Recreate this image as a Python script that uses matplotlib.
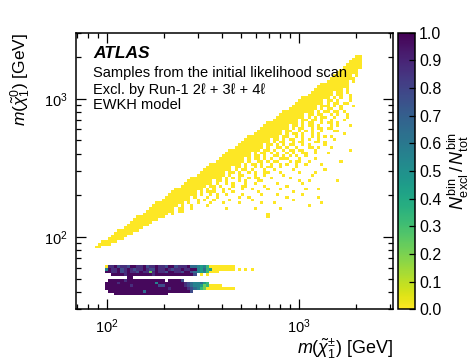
import numpy as np
import matplotlib
matplotlib.use('Agg')
import matplotlib.pyplot as plt
from matplotlib.ticker import NullFormatter

plt.rcParams['font.family'] = ['Liberation Sans', 'DejaVu Sans']
plt.rcParams['mathtext.fontset'] = 'custom'
plt.rcParams['mathtext.rm'] = 'Liberation Sans'
plt.rcParams['mathtext.it'] = 'Liberation Sans:italic'
plt.rcParams['mathtext.bf'] = 'Liberation Sans:bold'

# ---------------- binning of the histogram ----------------
x_lo, x_hi, n_x = 69.2, 3113.0, 100    # m(chi1+-) [GeV]
y_lo, y_hi, n_y = 30.0, 3000.0, 100    # m(chi1^0) [GeV]

# ---------------- data ----------------
# main diagonal band: (row counted from top, first column, pattern); 'Y' = fraction 0
band_rows = [
    (8, 88, "YY"),
    (9, 87, "YYY"),
    (10, 86, "YYYY"),
    (11, 85, "YYYYY"),
    (12, 84, "YYYYYY"),
    (13, 83, "YYYYYY"),
    (14, 82, "YYYYYYY"),
    (15, 81, "YYYYYY.Y"),
    (16, 80, "YYYYYYYY"),
    (17, 79, "YYYYYYY.Y"),
    (18, 77, "YYYYYYYYY"),
    (19, 76, "YYYYYYYY.Y"),
    (20, 75, "YYYYYYYYY.Y"),
    (21, 74, "YYYYYYY.YY.Y"),
    (22, 73, "YYYYYYYY.YY..Y"),
    (23, 71, "YYYYYYYYY.Y.Y..Y"),
    (24, 70, "YYYYYYYY.YY.Y...Y"),
    (25, 69, "YYYYYYYYY.Y.YY..Y"),
    (26, 68, "YYYYYYYY.YYY.Y.Y...Y"),
    (27, 67, "YYYYYYYYY.Y.YY..Y"),
    (28, 65, "YYYYYYYYYY.Y.YY.Y..Y"),
    (29, 64, "YYYYYYYY.YY.YY..Y.Y"),
    (30, 63, "YYYYYYYYY.Y.Y.YY..Y...Y"),
    (31, 62, "YYYYYYYY.YY.YY.Y..Y"),
    (32, 60, "YYYYYYYYYY.Y.YY..Y.Y..Y"),
    (33, 59, "YYYYYYYY.YY.Y.YY.Y...Y"),
    (34, 58, "YYYYYYYYY.Y.YY..Y.YY..Y"),
    (35, 57, "YYYYYYYY.YY..Y.Y.Y..Y...Y"),
    (36, 56, "YYYYYYYYY.Y.YY.Y..Y.Y"),
    (37, 54, "YYYYYYYYYY.YY..Y.Y..Y.Y...Y"),
    (38, 53, "YYYYYYYY.YY.Y.YY..Y.Y..Y"),
    (39, 52, "YYYYYYYYY.Y.YY..Y.YY...Y..Y"),
    (40, 51, "YYYYYYYY.YY.Y.Y.YY..Y.Y"),
    (41, 50, "YYYYYYYYY.Y..YY.Y..Y...Y..Y"),
    (42, 48, "YYYYYYYYYY.YY.Y..Y.YY..Y...Y"),
    (43, 47, "YYYYYYYY.Y.YY.Y.Y..Y.Y..Y"),
    (44, 46, "YYYYYYYYY.YY.Y..YY.Y...Y..Y"),
    (45, 45, "YYYYYYYY.Y.YY.Y.Y..Y.Y...Y"),
    (46, 44, "YYYYYYYYY.Y..YY.Y..Y...Y.Y"),
    (47, 42, "YYYYYYYYYY.Y.YY.Y..Y..Y....Y"),
    (48, 41, "YYYYYYYY.YY.Y..Y.Y.Y...Y"),
    (49, 40, "YYYYYYYYY.Y.YY.Y...Y..Y"),
    (50, 39, "YYYYYYYY.YY.Y..Y.Y..Y....Y"),
    (51, 38, "YYYYYYYYY.Y..YY...Y..Y"),
    (52, 36, "YYYYYYYYYY.Y.Y.Y..Y..Y...Y"),
    (53, 35, "YYYYYYYY.YY.Y...Y.Y...Y"),
    (54, 34, "YYYYYYYYY.Y..Y.Y...Y..Y"),
    (55, 33, "YYYYYYYY.YY.Y...Y..Y"),
    (56, 31, "YYYYYYYYY.Y.Y..Y.Y...Y"),
    (57, 30, "YYYYYYYY.Y.YY...Y..Y"),
    (58, 29, "YYYYYYYYY.Y..Y.Y..Y"),
    (59, 28, "YYYYYYYY.Y...Y..Y"),
    (60, 27, "YYYYYYYYY..Y.Y..Y"),
    (61, 25, "YYYYYYYYY.Y..Y...Y"),
    (62, 24, "YYYYYYYY.Y..Y"),
    (63, 23, "YYYYYYYY.Y...Y"),
    (64, 22, "YYYYYYYYY..Y"),
    (65, 21, "YYYYYYYY.Y"),
    (66, 19, "YYYYYYYYY"),
    (67, 18, "YYYYYYYY"),
    (68, 17, "YYYYYYY"),
    (69, 16, "YYYYYYY"),
    (70, 15, "YYYYYY"),
    (71, 13, "YYYYYYY"),
    (72, 12, "YYYYYY"),
    (73, 11, "YYYYY"),
    (74, 10, "YYYYY"),
    (75, 8, "YYYYY"),
    (76, 7, "YYYY"),
    (77, 6, "YY"),
]

# isolated cells below the band: (column, row from top), fraction 0
scatter_cells = [
    (84, 19), (86, 22), (84, 25), (80, 27), (82, 28), (85, 29), (84, 31),
    (80, 32), (86, 33), (82, 33), (79, 34), (84, 36), (82, 35), (78, 37),
    (81, 38), (76, 39), (80, 41), (86, 42), (74, 41), (79, 43), (72, 43),
    (75, 45), (69, 44), (83, 46), (72, 47), (66, 47), (78, 49), (70, 50),
    (64, 50), (74, 51), (67, 52), (61, 52), (82, 53), (71, 54), (63, 54),
    (58, 53), (64, 56), (76, 56), (68, 57), (60, 56), (55, 56), (52, 58),
    (43, 57), (58, 58), (76, 59), (66, 59), (35, 59), (48, 60), (51, 59),
    (38, 60), (62, 61), (46, 61), (77, 61), (58, 61), (55, 60), (41, 62),
    (33, 63), (32, 64), (60, 65), (60, 66), (71, 58), (73, 53), (68, 49),
    (61, 48), (77, 47), (70, 46), (65, 45),
    (76, 33), (77, 30), (74, 35), (73, 38), (78, 40), (70, 42), (75, 43),
    (67, 44), (73, 46), (62, 46), (69, 48), (75, 50), (65, 51), (60, 50),
    (70, 53), (56, 52), (66, 55), (59, 55), (53, 55), (72, 56), (57, 57),
    (49, 57), (63, 58), (54, 59), (44, 59), (68, 60), (51, 61), (36, 62),
    (56, 63), (47, 63), (64, 63), (73, 62),
]

# two low-m(chi1^0) strips: (row from top, first column, levels)
strip_rows = [
    (84, 9, "0" "88978879988978898879978889" "665453" "00000000"),
    (85, 9, "5" "9889789878898779889878898899" "54634" "0000000" ".0.0.0"),
    (86, 9, "99889789887988" "2" "89887998879" "9" "76545" "3000"),
    (87, 11, "9999899999999899999999999" "97" ".0.0"),
    (88, 16, "99"),
    (89, 10, "999998999999999999.99997"),
    (90, 9, "9999899999999999" "5" "99999999" "876556" "43"),
    (91, 9, "9999999989999999977999999" "87655" "4230" "000"),
    (92, 9, "99999999999999999999899999" "8765" "32000000000"),
    (93, 10, "99999999999" "6" "99999999999999" "7"),
    (94, 12, "99999999999999999"),
]

# excluded fraction represented by each level symbol
level_values = {"Y": 0.0, "0": 0.0, "1": 0.12, "2": 0.22, "3": 0.33, "4": 0.45,
                "5": 0.55, "6": 0.65, "7": 0.77, "8": 0.87, "9": 0.98}

cbar_ticks = [0.0, 0.1, 0.2, 0.3, 0.4, 0.5, 0.6, 0.7, 0.8, 0.9, 1.0]

# ---------------- build histogram ----------------
x_edges = np.logspace(np.log10(x_lo), np.log10(x_hi), n_x + 1)
y_edges = np.logspace(np.log10(y_lo), np.log10(y_hi), n_y + 1)
Z = np.full((n_y, n_x), np.nan)

def put(row, col, val):
    j = n_y - 1 - row
    if 0 <= j < n_y and 0 <= col < n_x:
        Z[j, col] = val

for row, c0, pat in band_rows + strip_rows:
    for k, ch in enumerate(pat):
        if ch in level_values:
            put(row, c0 + k, level_values[ch])
for col, row in scatter_cells:
    put(row, col, 0.0)

# ---------------- figure ----------------
fig = plt.figure(figsize=(4.75, 3.61), dpi=100)
ax = fig.add_axes([0.160, 0.1432, 0.668, 0.766])
cax = fig.add_axes([0.8373, 0.1432, 0.0364, 0.766])

mesh = ax.pcolormesh(x_edges, y_edges, np.ma.masked_invalid(Z),
                     cmap='viridis_r', vmin=0, vmax=1, shading='flat')
ax.set_xscale('log')
ax.set_yscale('log')
ax.set_xlim(x_lo, x_hi)
ax.set_ylim(y_lo, y_hi)
for a in (ax.xaxis, ax.yaxis):
    a.set_minor_formatter(NullFormatter())
ax.tick_params(which='both', direction='in', top=True, right=True,
               labelsize=10.5, width=0.9)
ax.tick_params(which='major', length=7, pad=6)
ax.tick_params(which='minor', length=3.5)
for s in ax.spines.values():
    s.set_linewidth(1.1)

ax.set_xlabel(r'$m(\tilde{\chi}_1^{\pm})$ [GeV]', fontsize=13, loc='right')
ax.xaxis.set_label_coords(1.0, -0.1)
ax.set_ylabel(r'$m(\tilde{\chi}_1^{0})$ [GeV]', fontsize=12.5, loc='top')
ax.yaxis.set_label_coords(-0.135, 1.0)

tr = ax.transAxes
ax.text(0.0545, 0.907, 'ATLAS', transform=tr, fontsize=12.5,
        fontweight='bold', fontstyle='italic', va='baseline')
ax.text(0.0545, 0.841, 'Samples from the initial likelihood scan',
        transform=tr, fontsize=10.5, va='baseline')
ax.text(0.0545, 0.778, 'Excl. by Run-1 2ℓ + 3ℓ + 4ℓ',
        transform=tr, fontsize=10.5, va='baseline')
ax.text(0.0545, 0.723, 'EWKH model', transform=tr, fontsize=10.5,
        va='baseline')

cbar = fig.colorbar(mesh, cax=cax, ticks=cbar_ticks, format='%.1f')
cbar.outline.set_linewidth(1.1)
cax.tick_params(direction='in', length=4, width=0.9, labelsize=11.5, pad=3)
cbar.set_label(r'$N^{\mathrm{bin}}_{\mathrm{excl}}\,/\,N^{\mathrm{bin}}_{\mathrm{tot}}$',
               fontsize=13, labelpad=3)

fig.savefig('out.png', dpi=100)
